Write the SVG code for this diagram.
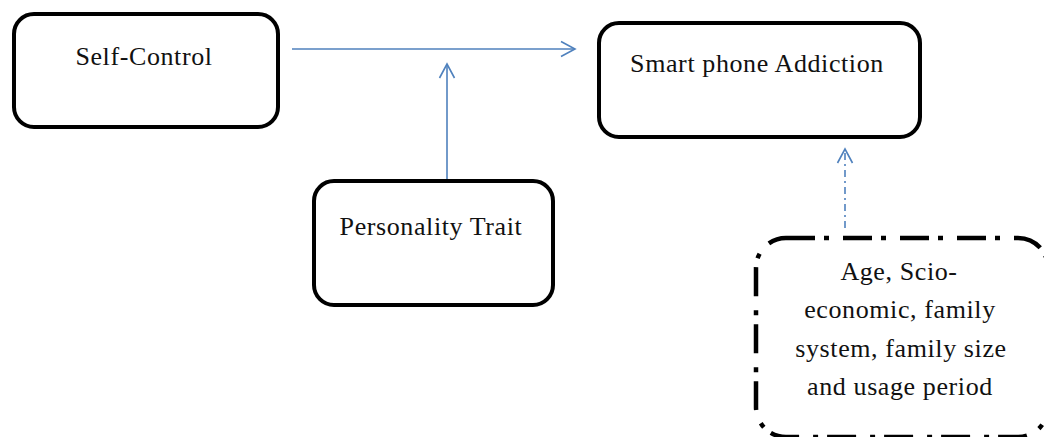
<svg xmlns="http://www.w3.org/2000/svg" width="1044" height="437" viewBox="0 0 1044 437">
  <style>
    .box { fill: #ffffff; stroke: #000000; stroke-width: 4; }
    .dashbox { fill: #ffffff; stroke: #000000; stroke-width: 4.5; stroke-dasharray: 29 9 5 14; }
    .label { font-family: "Liberation Serif", "Times New Roman", serif; font-size: 26px; fill: #111111; text-anchor: middle; letter-spacing: 0.6px; }
    .link { fill: none; stroke: #4f81bd; stroke-width: 1.6; }
    .dashdot { stroke-dasharray: 7 4 2 4; }
  </style>
  <defs>
    <marker id="open-arrow" markerUnits="userSpaceOnUse" markerWidth="20" markerHeight="20" viewBox="-16 -10 20 20" refX="0" refY="0" orient="auto">
      <path d="M -14 -7.5 L 0 0 L -14 7.5" fill="none" stroke="#4f81bd" stroke-width="1.6"/>
    </marker>
  </defs>

  <g id="connectors">
    <line class="link" x1="292" y1="49" x2="575" y2="49" marker-end="url(#open-arrow)"/>
    <line class="link" x1="447" y1="180" x2="447" y2="64" marker-end="url(#open-arrow)"/>
    <line class="link dashdot" x1="845" y1="228" x2="845" y2="149" marker-end="url(#open-arrow)"/>
  </g>

  <g id="self-control">
    <rect class="box" x="14" y="14" width="264" height="113" rx="20"/>
    <text class="label" x="144" y="65">Self-Control</text>
  </g>

  <g id="smartphone-addiction">
    <rect class="box" x="599" y="23" width="321" height="114" rx="20"/>
    <text class="label" x="757" y="72">Smart phone Addiction</text>
  </g>

  <g id="personality-trait">
    <rect class="box" x="314" y="181" width="239" height="124" rx="20"/>
    <text class="label" x="431" y="235">Personality Trait</text>
  </g>

  <g id="demographics">
    <rect class="dashbox" x="756" y="238" width="292" height="199" rx="30"/>
    <text class="label" x="899" y="280">Age, Scio-</text>
    <text class="label" x="900" y="318">economic, family</text>
    <text class="label" x="901" y="357">system, family size</text>
    <text class="label" x="900" y="395">and usage period</text>
  </g>
</svg>
